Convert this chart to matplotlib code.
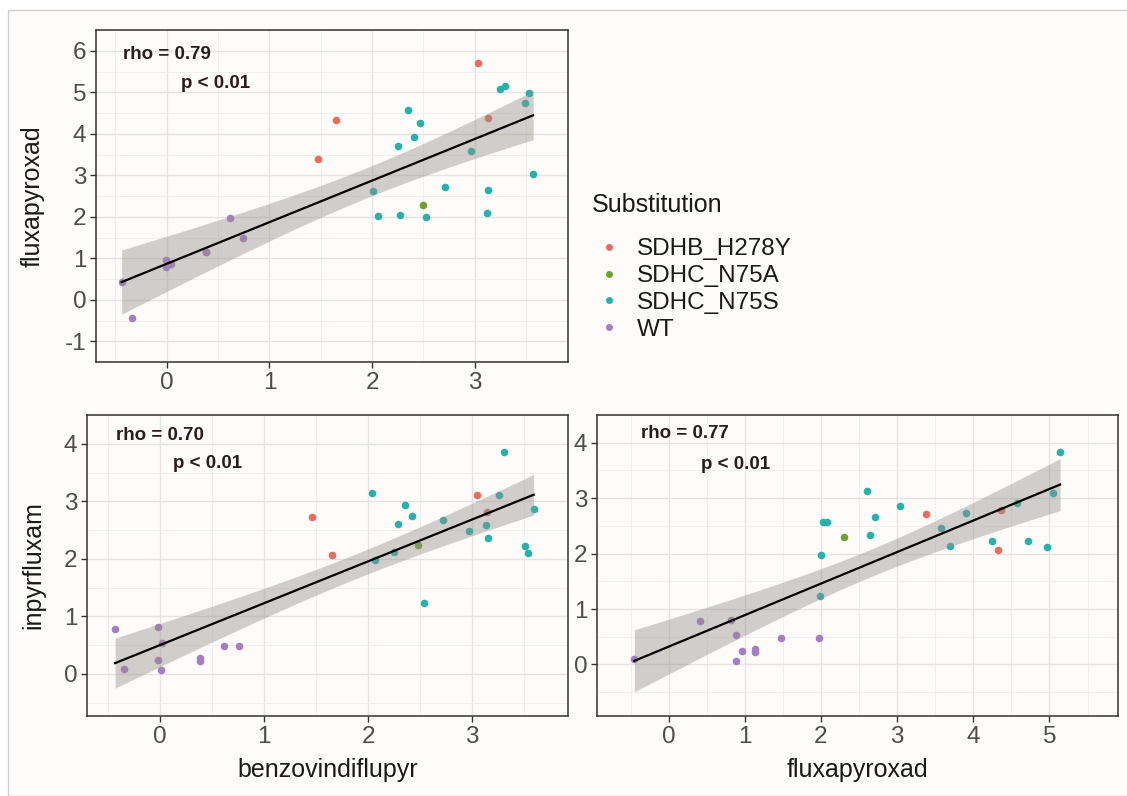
import numpy as np
import matplotlib
matplotlib.use("Agg")
import matplotlib.pyplot as plt
from matplotlib.lines import Line2D
from matplotlib.patches import Rectangle

plt.rcParams["font.family"] = ["Liberation Sans", "DejaVu Sans"]
plt.rcParams["axes.unicode_minus"] = False

W, H = 1127, 796

groups = ["SDHB_H278Y", "SDHC_N75A", "SDHC_N75S", "WT"]
group_colors = ["#EC6B5F", "#6FA22B", "#25B2AC", "#A67CC4"]

# panel A: benzovindiflupyr (x) vs fluxapyroxad (y)
a_x = [3.03, 1.65, 1.47, 3.13,
       2.50,
       3.25, 3.30, 3.53, 3.49, 2.35, 2.47, 2.41, 2.25, 2.96, 3.57, 2.71, 3.13, 2.01, 2.06, 2.27, 2.53, 3.12,
       -0.44, -0.34, -0.01, -0.01, 0.04, 0.38, 0.38, 0.62, 0.74]
a_y = [5.70, 4.34, 3.38, 4.37,
       2.29,
       5.07, 5.15, 4.97, 4.73, 4.58, 4.26, 3.92, 3.71, 3.59, 3.04, 2.71, 2.65, 2.62, 2.02, 2.04, 1.99, 2.08,
       0.42, -0.45, 0.95, 0.80, 0.86, 1.16, 1.16, 1.96, 1.48]
a_grp = ["SDHB_H278Y"] * 4 + ["SDHC_N75A"] + ["SDHC_N75S"] * 17 + ["WT"] * 9

# panel B: benzovindiflupyr (x) vs inpyrfluxam (y)
b_x = [1.46, 1.65, 3.05, 3.14,
       2.48,
       3.31, 2.04, 3.26, 2.35, 2.42, 2.29, 2.72, 3.59, 2.97, 3.13, 3.15, 3.51, 3.54, 2.25, 2.07, 2.54,
       -0.43, -0.34, -0.02, -0.02, 0.01, 0.02, 0.39, 0.39, 0.62, 0.76]
b_y = [2.73, 2.07, 3.11, 2.81,
       2.24,
       3.85, 3.14, 3.11, 2.93, 2.74, 2.61, 2.67, 2.87, 2.48, 2.59, 2.37, 2.22, 2.11, 2.12, 1.98, 1.23,
       0.78, 0.09, 0.81, 0.24, 0.07, 0.54, 0.27, 0.22, 0.49, 0.49]
b_grp = ["SDHB_H278Y"] * 4 + ["SDHC_N75A"] + ["SDHC_N75S"] * 16 + ["WT"] * 10

# panel C: fluxapyroxad (x) vs inpyrfluxam (y)
c_x = [3.38, 4.33, 4.36,
       2.30,
       5.14, 2.60, 5.05, 3.04, 2.71, 3.91, 2.03, 2.08, 2.65, 3.58, 3.69, 4.25, 4.72, 4.97, 2.00, 1.99, 4.58,
       -0.45, 0.41, 0.82, 0.89, 0.89, 0.97, 1.14, 1.14, 1.47, 1.97]
c_y = [2.71, 2.06, 2.79,
       2.30,
       3.84, 3.13, 3.09, 2.85, 2.66, 2.73, 2.57, 2.57, 2.34, 2.47, 2.14, 2.23, 2.23, 2.12, 1.97, 1.23, 2.91,
       0.10, 0.78, 0.80, 0.54, 0.07, 0.25, 0.27, 0.23, 0.48, 0.48]
c_grp = ["SDHB_H278Y"] * 3 + ["SDHC_N75A"] + ["SDHC_N75S"] * 17 + ["WT"] * 10

rho_labels = ["rho = 0.79", "rho = 0.70", "rho = 0.77"]
p_label = "p < 0.01"


def px_rect(left, top, right, bottom):
    return [left / W, 1 - bottom / H, (right - left) / W, (bottom - top) / H]


def lm_band(x, y, n_grid=100):
    # linear fit with 95% confidence band, like geom_smooth(method = "lm")
    x = np.asarray(x)
    y = np.asarray(y)
    slope, icpt = np.polyfit(x, y, 1)
    xs = np.linspace(x.min(), x.max(), n_grid)
    fit = icpt + slope * xs
    resid = y - (icpt + slope * x)
    n = len(x)
    s = np.sqrt(np.sum(resid ** 2) / (n - 2))
    se = s * np.sqrt(1 / n + (xs - x.mean()) ** 2 / np.sum((x - x.mean()) ** 2))
    t = 2.048
    return xs, fit, fit - t * se, fit + t * se


def draw_panel(ax, x, y, grp, xlim, ylim, xticks, yticks, rho, txt_pos):
    ax.set_facecolor("#fdfcfa")
    x = np.asarray(x)
    y = np.asarray(y)
    grp = np.asarray(grp)
    for g, c in zip(groups, group_colors):
        m = grp == g
        ax.scatter(x[m], y[m], s=30, color=c, linewidths=0, zorder=2)
    xs, fit, lo, hi = lm_band(x, y)
    ax.fill_between(xs, lo, hi, color="#948e88", alpha=0.42, linewidth=0, zorder=3)
    ax.plot(xs, fit, color="black", lw=1.6, zorder=4)

    ax.set_xlim(*xlim)
    ax.set_ylim(*ylim)
    ax.set_xticks(xticks)
    ax.set_yticks(yticks)
    ax.set_xticks(np.arange(xticks[0] - 0.5, xticks[-1] + 1, 1.0), minor=True)
    ax.set_yticks(np.arange(yticks[0] - 0.5, yticks[-1] + 1, 1.0), minor=True)
    ax.grid(which="major", color="#e6e3e2", lw=1.0, zorder=0)
    ax.grid(which="minor", color="#f0eeed", lw=0.6, zorder=0)
    ax.set_axisbelow(True)
    ax.tick_params(which="major", length=4, width=1, color="#333333",
                   labelsize=17.5, labelcolor="#4d4d4d", pad=3)
    ax.tick_params(which="minor", length=0)
    for sp in ax.spines.values():
        sp.set_color("#333333")
        sp.set_linewidth(1.1)

    (rx, ry), (px, py) = txt_pos
    ax.text(rx, ry, rho, transform=ax.transAxes, fontsize=13.5, fontweight="bold",
            color="#2b1d1d", va="center", ha="left")
    ax.text(px, py, p_label, transform=ax.transAxes, fontsize=13.5, fontweight="bold",
            color="#2b1d1d", va="center", ha="left")


fig = plt.figure(figsize=(W / 100, H / 100), dpi=100)
fig.patch.set_facecolor("white")
fig.add_artist(Rectangle((8 / W, 0), 1, 1 - 10 / H, transform=fig.transFigure,
                         facecolor="#fdfcfa", edgecolor="#cfcfcf", lw=1.0, zorder=-5))

ax_a = fig.add_axes(px_rect(96, 30, 568, 362))
draw_panel(ax_a, a_x, a_y, a_grp, (-0.69, 3.91), (-1.37, 6.37),
           [0, 1, 2, 3], [-1, 0, 1, 2, 3, 4, 5, 6], rho_labels[0],
           ((0.057, 0.925), (0.18, 0.84)))
ax_a.set_ylabel("fluxapyroxad", fontsize=18, color="#1a1a1a")
ax_a.yaxis.set_label_coords(-0.108, 0.5)

ax_b = fig.add_axes(px_rect(87, 415, 568, 716))
draw_panel(ax_b, b_x, b_y, b_grp, (-0.70, 3.92), (-0.73, 4.20),
           [0, 1, 2, 3], [0, 1, 2, 3, 4], rho_labels[1],
           ((0.06, 0.933), (0.178, 0.84)))
ax_b.set_ylabel("inpyrfluxam", fontsize=18, color="#1a1a1a")
ax_b.yaxis.set_label_coords(-0.087, 0.5)
ax_b.set_xlabel("benzovindiflupyr", fontsize=18, color="#1a1a1a")
ax_b.xaxis.set_label_coords(0.5, -0.18)
ax_b.xaxis.label.set_verticalalignment("center")

ax_c = fig.add_axes(px_rect(597, 415, 1118, 716))
draw_panel(ax_c, c_x, c_y, c_grp, (-0.94, 5.90), (-0.93, 4.22),
           [0, 1, 2, 3, 4, 5], [0, 1, 2, 3, 4], rho_labels[2],
           ((0.084, 0.937), (0.2, 0.837)))
ax_c.set_xlabel("fluxapyroxad", fontsize=18, color="#1a1a1a")
ax_c.xaxis.set_label_coords(0.5, -0.18)
ax_c.xaxis.label.set_verticalalignment("center")

# legend: title placed on its own, entries below
fig.text(592 / W, 1 - 205 / H, "Substitution", fontsize=18, color="#1a1a1a",
         ha="left", va="center")
handles = [Line2D([], [], ls="none", marker="o", markersize=5, markeredgewidth=0,
                  color=c) for c in group_colors]
leg = fig.legend(handles, groups, loc="upper left",
                 bbox_to_anchor=(587 / W, 1 - 226 / H), frameon=False,
                 fontsize=17.5, handlelength=0.8, handletextpad=0.75,
                 labelspacing=0.2, borderpad=0)
for t in leg.get_texts():
    t.set_color("#1a1a1a")

fig.savefig("out.png", dpi=100)
